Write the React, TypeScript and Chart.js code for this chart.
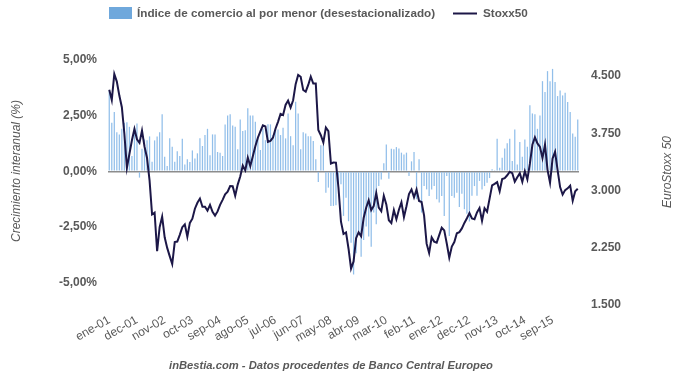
import React, { useEffect, useRef } from 'react';
import { Chart, registerables } from 'chart.js';

Chart.register(...registerables);

// ---------- data ----------
const MONTHS = ['ene', 'feb', 'mar', 'abr', 'may', 'jun', 'jul', 'ago', 'sep', 'oct', 'nov', 'dec'];
const START_YEAR = 2001;
const N_MONTHS = 187;
const CATEGORIES: string[] = Array.from({ length: N_MONTHS }, (_, i) =>
  `${MONTHS[i % 12]}-${String((START_YEAR + Math.floor(i / 12)) % 100).padStart(2, '0')}`
);

const X_TICK_LABELS = [
  'ene-01', 'dec-01', 'nov-02', 'oct-03', 'sep-04', 'ago-05', 'jul-06', 'jun-07', 'may-08',
  'abr-09', 'mar-10', 'feb-11', 'ene-12', 'dec-12', 'nov-13', 'oct-14', 'sep-15',
];

// Índice de comercio al por menor, crecimiento interanual (%)
const RETAIL = [
  3.60, 2.18, 2.66, 1.76, 1.66, 1.91, 2.18, 2.21, 2.00, 0.69, 1.96, 2.15,
  -0.28, 1.02, 1.43, 1.40, 1.57, 0.43, 1.39, 1.57, 1.76, 2.56, 0.66, 0.24,
  1.49, 1.11, 0.43, 0.90, 0.69, 1.46, 0.31, 0.54, 0.42, 0.94, 0.58, 0.81,
  1.49, 1.14, 1.63, 1.91, 0.72, 1.66, 1.66, 0.87, 0.84, 0.69, 2.10, 2.51,
  2.56, 2.06, 2.00, 0.99, 2.33, 1.81, 1.85, 2.83, 2.51, 2.51, 2.23, 1.55,
  0.96, 1.91, 1.40, 2.11, 2.11, 1.63, 1.85, 1.88, 1.63, 1.96, 1.48, 2.60,
  1.58, 1.17, 3.12, 2.60, 0.99, 1.76, 1.70, 1.58, 1.58, 1.36, 0.54, -0.48,
  1.17, 1.17, -0.96, -0.73, -1.55, -1.55, -1.52, -0.51, -0.58, -2.00, -1.18, -2.24,
  -3.21, -4.63, -3.68, -2.78, -3.83, -3.08, -2.47, -2.93, -3.38, -1.85, -2.38, -0.66,
  -0.36, 0.36, 1.21, -0.33, 1.02, 0.99, 1.09, 1.03, 0.84, 0.76, 0.84, -0.21,
  0.45, 0.87, -1.25, 0.54, -1.85, -0.66, -0.81, -1.11, -0.81, -0.66, -1.25, -1.40,
  -1.11, -2.00, -0.21, -2.90, -1.11, -1.18, -0.96, -1.60, -1.00, -1.70, -1.90, -2.25,
  -1.10, -0.66, -1.10, -0.43, -0.81, -0.66, -0.51, -0.30, 0.10, 0.05, 1.46, 0.16,
  0.61, 1.03, 1.26, 1.46, 0.46, 1.88, 0.31, 1.32, 0.66, 1.43, 1.11, 2.97,
  2.60, 2.56, 1.91, 2.51, 4.05, 3.56, 4.50, 4.05, 4.60, 4.01, 3.38, 3.63,
  3.41, 3.53, 3.11, 2.66, 1.70, 1.55, 2.33,
];

// Stoxx50
const STOXX = [
  4318, 4185, 4525, 4426, 4243, 4091, 3743, 3297, 3478, 3658, 3806, 3670,
  3624, 3784, 3574, 3425, 3133, 2686, 2710, 2204, 2519, 2657, 2386, 2248,
  2140, 2036, 2324, 2331, 2419, 2519, 2556, 2395, 2575, 2631, 2761, 2839,
  2894, 2787, 2788, 2736, 2811, 2721, 2671, 2726, 2811, 2877, 2951, 2984,
  3058, 3056, 2930, 3077, 3182, 3326, 3263, 3429, 3320, 3448, 3579, 3691,
  3775, 3854, 3839, 3637, 3649, 3692, 3809, 3899, 4004, 3987, 4120, 4178,
  4087, 4182, 4393, 4513, 4489, 4316, 4294, 4382, 4490, 4400, 4400, 3792,
  3724, 3628, 3825, 3777, 3353, 3367, 3365, 3038, 2591, 2430, 2451, 2237,
  1977, 2071, 2375, 2451, 2401, 2639, 2775, 2873, 2743, 2797, 2966, 2776,
  2728, 2931, 2817, 2610, 2574, 2742, 2623, 2748, 2845, 2650, 2793, 2954,
  3013, 2911, 3011, 2862, 2849, 2670, 2303, 2180, 2385, 2330, 2317, 2416,
  2512, 2477, 2306, 2119, 2265, 2325, 2440, 2454, 2503, 2575, 2636, 2703,
  2633, 2624, 2712, 2769, 2603, 2768, 2721, 2893, 3068, 3087, 3109, 2990,
  3149, 3162, 3199, 3245, 3228, 3116, 3173, 3226, 3113, 3251, 3146, 3351,
  3599, 3697, 3616, 3571, 3424, 3601, 3270, 3101, 3418, 3506, 3268, 3045,
  2946, 3005, 3028, 3063, 2865, 2990, 3023,
];

const LEFT_TICKS = [-5, -2.5, 0, 2.5, 5];
const RIGHT_TICKS = [1500, 2250, 3000, 3750, 4500];

const BAR_LABEL = 'Índice de comercio al por menor (desestacionalizado)';
const LINE_LABEL = 'Stoxx50';
const LEFT_TITLE = 'Crecimiento interanual (%)';
const RIGHT_TITLE = 'EuroStoxx 50';
const FOOTER = 'inBestia.com - Datos procedentes de Banco Central Europeo';

// ---------- styles ----------
const LEGEND_BOX_COLOR = '#6fa8dc';
const BAR_COLOR = '#92bfea';
const LINE_COLOR = '#1c1747';
const TEXT_COLOR = '#595959';
const FONT_FAMILY = '"Liberation Sans", Arial, sans-serif';

const fmtPct = (v: number) => v.toFixed(2).replace('.', ',') + '%';
const fmtThousands = (v: number) => {
  const t = Math.floor(v / 1000);
  const r = Math.round(v % 1000);
  return t > 0 ? `${t}.${String(r).padStart(3, '0')}` : String(r);
};

const overlayPlugin = {
  id: 'overlayTexts',
  afterDraw(chart: any) {
    const ctx: CanvasRenderingContext2D = chart.ctx;
    ctx.save();
    // legend
    ctx.fillStyle = LEGEND_BOX_COLOR;
    ctx.fillRect(109, 7, 23, 12);
    ctx.font = `bold 11.7px ${FONT_FAMILY}`;
    ctx.fillStyle = TEXT_COLOR;
    ctx.textAlign = 'left';
    ctx.textBaseline = 'middle';
    ctx.fillText(BAR_LABEL, 137, 13.5);
    ctx.strokeStyle = LINE_COLOR;
    ctx.lineWidth = 2;
    ctx.beginPath();
    ctx.moveTo(453, 13.5);
    ctx.lineTo(477, 13.5);
    ctx.stroke();
    ctx.fillText(LINE_LABEL, 483, 13.5);

    // axis titles
    ctx.font = `italic 12px ${FONT_FAMILY}`;
    ctx.textAlign = 'center';
    ctx.save();
    ctx.translate(17, 171);
    ctx.rotate(-Math.PI / 2);
    ctx.fillText(LEFT_TITLE, 0, 0);
    ctx.restore();
    ctx.save();
    ctx.translate(668, 172);
    ctx.rotate(-Math.PI / 2);
    ctx.fillText(RIGHT_TITLE, 0, 0);
    ctx.restore();

    // footer
    ctx.font = `italic bold 11.2px ${FONT_FAMILY}`;
    ctx.fillText(FOOTER, 331, 366);
    ctx.restore();
  },
};

export default function App() {
  const canvasRef = useRef<HTMLCanvasElement | null>(null);

  useEffect(() => {
    if (!canvasRef.current) return;
    const chart = new Chart(canvasRef.current, {
      type: 'bar',
      data: {
        labels: CATEGORIES,
        datasets: [
          {
            type: 'line',
            label: LINE_LABEL,
            data: STOXX,
            yAxisID: 'y1',
            borderColor: LINE_COLOR,
            backgroundColor: LINE_COLOR,
            borderWidth: 2,
            pointRadius: 0,
            tension: 0,
            order: 0,
          } as any,
          {
            type: 'bar',
            label: BAR_LABEL,
            data: RETAIL,
            yAxisID: 'y',
            backgroundColor: BAR_COLOR,
            borderWidth: 0,
            barPercentage: 0.5,
            categoryPercentage: 1,
            order: 1,
          } as any,
        ],
      },
      options: {
        responsive: false,
        animation: false,
        layout: { padding: { top: 50, left: 0, right: 0, bottom: 0 } },
        plugins: {
          legend: { display: false },
          tooltip: { enabled: false },
          title: { display: false },
        },
        scales: {
          x: {
            type: 'category',
            offset: true,
            grid: { display: false, drawTicks: false },
            border: { display: false },
            ticks: {
              autoSkip: false,
              minRotation: 30,
              maxRotation: 30,
              padding: 8,
              color: TEXT_COLOR,
              font: { family: FONT_FAMILY, size: 12 },
              callback: function (this: any, value: any) {
                const lab = this.getLabelForValue(value);
                return X_TICK_LABELS.includes(lab) ? lab : '';
              },
            },
            afterFit: (scale: any) => {
              scale.height = 72;
            },
          },
          y: {
            type: 'linear',
            position: 'left',
            min: -6,
            max: 5.449,
            grid: {
              drawTicks: false,
              lineWidth: 1.5,
              color: (c: any) => (c.tick && c.tick.value === 0 ? '#8c8c8c' : 'rgba(0,0,0,0)'),
            },
            border: { display: false },
            ticks: {
              padding: 11,
              color: TEXT_COLOR,
              font: { family: FONT_FAMILY, size: 12, weight: 'bold' },
              callback: (v: any) => fmtPct(Number(v)),
            },
            afterBuildTicks: (scale: any) => {
              scale.ticks = LEFT_TICKS.map((v) => ({ value: v }));
            },
            afterFit: (scale: any) => {
              scale.width = 108;
            },
          },
          y1: {
            type: 'linear',
            position: 'right',
            min: 1500,
            max: 4840,
            grid: { display: false, drawTicks: false },
            border: { display: false },
            ticks: {
              padding: 12,
              color: TEXT_COLOR,
              font: { family: FONT_FAMILY, size: 12, weight: 'bold' },
              callback: (v: any) => fmtThousands(Number(v)),
            },
            afterBuildTicks: (scale: any) => {
              scale.ticks = RIGHT_TICKS.map((v) => ({ value: v }));
            },
            afterFit: (scale: any) => {
              scale.width = 101;
            },
          },
        },
      } as any,
      plugins: [overlayPlugin],
    });
    return () => chart.destroy();
  }, []);

  return (
    <div style={{ position: 'fixed', left: 0, top: 0, width: 680, height: 377, background: '#ffffff' }}>
      <canvas ref={canvasRef} width={680} height={377} style={{ width: 680, height: 377, display: 'block' }} />
    </div>
  );
}
